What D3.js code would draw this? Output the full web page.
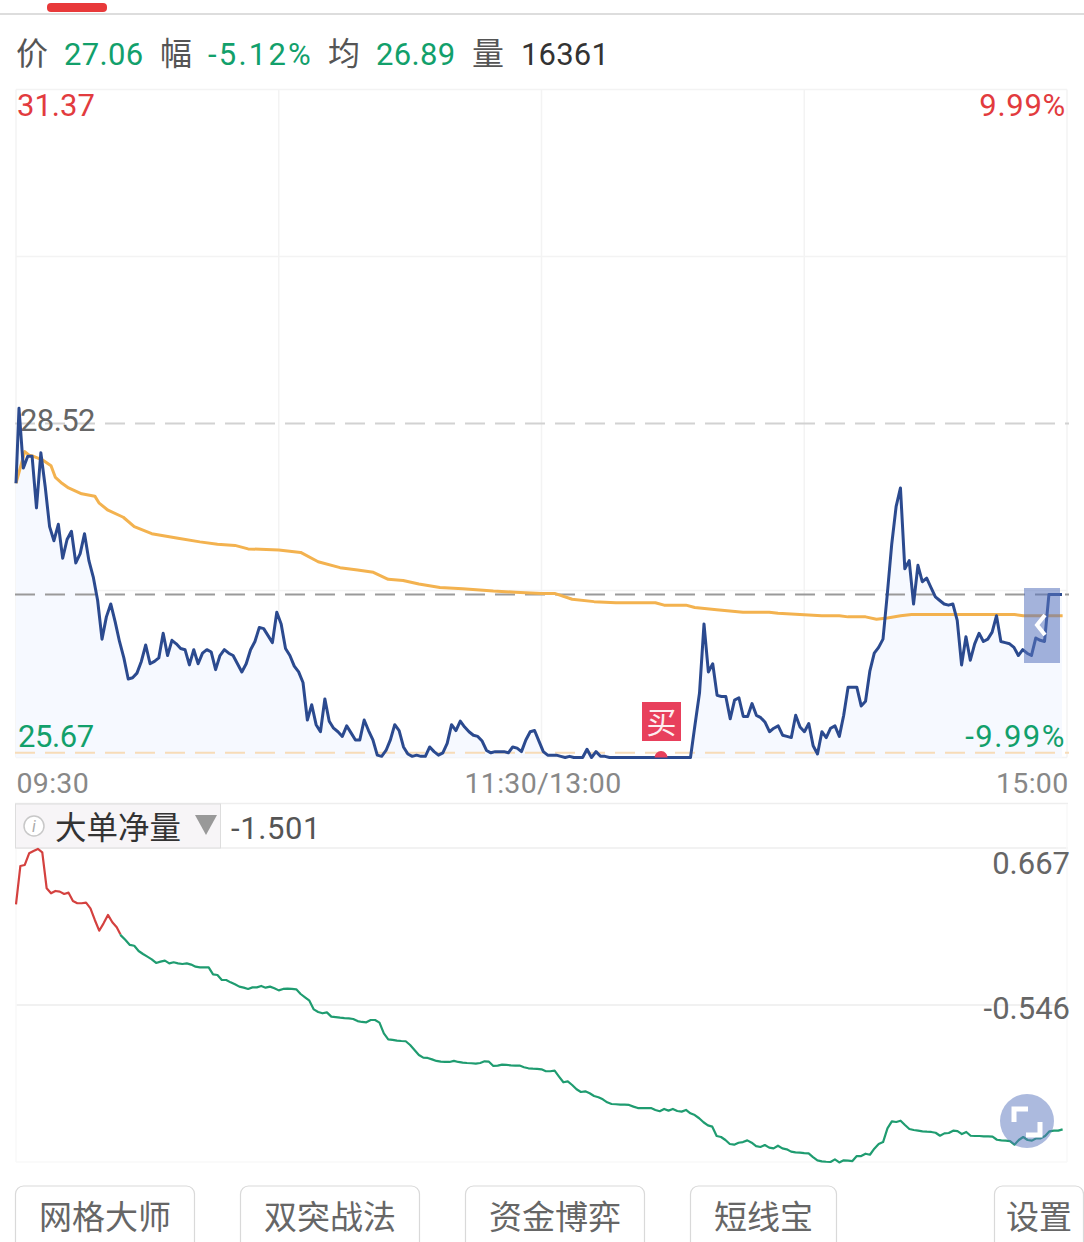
<!DOCTYPE html>
<html lang="zh">
<head>
<meta charset="UTF-8">
<title>分时图</title>
<script src="https://d3js.org/d3.v7.min.js"></script>
<style>
  html, body { margin: 0; padding: 0; background: #fff; overflow: hidden; }
  svg { display: block; }
  text { font-family: Roboto, "Noto Sans CJK SC", sans-serif; }
  .cjk { font-family: "Noto Sans CJK SC", sans-serif; }
</style>
</head>
<body>
<svg id="chart" width="1084" height="1242"></svg>
<script>
// per-minute last price (09:30 = 0, 15:00 = 240)
const priceValues = [
  28.01,28.65,28.14,28.24,28.24,27.80,28.27,27.98,27.64,27.52,
  27.66,27.37,27.53,27.60,27.33,27.41,27.58,27.35,27.21,27.01,
  26.68,26.87,26.98,26.83,26.66,26.52,26.34,26.35,26.39,26.49,
  26.63,26.47,26.49,26.52,26.73,26.54,26.67,26.64,26.60,26.59,
  26.46,26.59,26.47,26.56,26.59,26.57,26.42,26.54,26.59,26.56,
  26.54,26.47,26.40,26.47,26.59,26.66,26.78,26.77,26.71,26.65,
  26.91,26.81,26.60,26.54,26.45,26.40,26.31,25.99,26.12,25.95,
  25.89,26.17,25.98,25.92,25.89,25.85,25.94,25.88,25.82,25.82,
  25.99,25.90,25.82,25.69,25.68,25.73,25.82,25.95,25.90,25.76,
  25.70,25.68,25.69,25.68,25.68,25.76,25.72,25.69,25.71,25.79,
  25.95,25.90,25.98,25.93,25.89,25.86,25.85,25.81,25.73,25.71,
  25.72,25.72,25.72,25.71,25.76,25.75,25.72,25.82,25.89,25.90,
  25.81,25.72,25.69,25.69,25.69,25.68,25.67,25.68,25.67,25.67,
  25.67,25.74,25.67,25.72,25.68,25.68,25.67,25.67,25.67,25.67,
  25.67,25.67,25.67,25.67,25.67,25.67,25.67,25.67,25.67,25.67,
  25.67,25.67,25.67,25.67,25.67,25.95,26.22,26.81,26.40,26.47,
  26.20,26.19,26.19,26.00,26.16,26.18,26.02,26.02,26.13,26.03,
  26.01,25.97,25.89,25.92,25.94,25.86,25.85,25.84,26.03,25.93,
  25.89,25.96,25.77,25.70,25.89,25.84,25.92,25.94,25.85,26.03,
  26.27,26.27,26.27,26.11,26.15,26.41,26.56,26.61,26.68,27.07,
  27.49,27.81,27.97,27.28,27.35,26.98,27.31,27.17,27.20,27.12,
  27.04,27.01,26.98,26.97,26.98,26.84,26.46,26.70,26.50,26.64,
  26.73,26.66,26.68,26.74,26.88,26.66,26.65,26.64,26.61,26.54,
  26.59,26.56,26.54,26.69,26.67,26.66,27.06,27.06,27.06,27.06
];

// average price line, read at its bends
const avgMinutes = [0,2,3,4,6,8,9,10.5,12,15,18,19,21,24.5,27,31,37,42,46,50,53,60,65,69,74,78,
  81.6,85,88.4,92,96.8,102,109,114,120,123,127,132,137,146,148,153,155,160,
  166,172,174,179,184,188,190,194,196.5,199,202,204.5,214,228,230,239];
const avgValues = [28.01,28.28,28.25,28.24,28.21,28.16,28.06,28.01,27.97,27.92,27.90,27.84,27.78,27.72,27.64,27.58,27.54,27.51,27.49,27.48,27.45,27.44,27.42,27.34,27.29,27.27,
  27.25,27.19,27.18,27.15,27.12,27.11,27.09,27.08,27.07,27.07,27.02,27.00,26.99,26.99,26.97,26.97,26.95,26.93,
  26.91,26.91,26.90,26.89,26.88,26.88,26.87,26.87,26.85,26.86,26.88,26.89,26.89,26.89,26.88,26.88];

// 大单净量 per minute
const netValues = [
  .232,.528,.536,.626,.644,.660,.634,.356,.317,.335,
  .330,.312,.322,.258,.240,.240,.245,.201,.111,.028,
  .085,.150,.093,.054,-.010,-.044,-.082,-.088,-.129,-.152,
  -.172,-.193,-.221,-.211,-.203,-.224,-.216,-.224,-.229,-.224,
  -.234,-.250,-.255,-.255,-.255,-.309,-.314,-.353,-.353,-.371,
  -.386,-.404,-.412,-.422,-.410,-.410,-.399,-.412,-.404,-.417,
  -.433,-.422,-.420,-.422,-.425,-.461,-.487,-.513,-.580,-.600,
  -.610,-.603,-.636,-.639,-.644,-.647,-.649,-.654,-.670,-.677,
  -.680,-.662,-.662,-.682,-.765,-.811,-.816,-.821,-.824,-.826,
  -.855,-.893,-.932,-.953,-.955,-.966,-.978,-.984,-.986,-.986,
  -.978,-.986,-.991,-.994,-.996,-.999,-.994,-.981,-.984,-1.017,
  -1.014,-1.007,-1.009,-1.012,-1.014,-1.014,-1.027,-1.035,-1.038,-1.040,
  -1.043,-1.058,-1.058,-1.053,-1.099,-1.143,-1.136,-1.164,-1.197,-1.218,
  -1.213,-1.228,-1.249,-1.259,-1.275,-1.298,-1.311,-1.313,-1.316,-1.316,
  -1.318,-1.331,-1.342,-1.342,-1.342,-1.342,-1.357,-1.367,-1.349,-1.362,
  -1.349,-1.365,-1.370,-1.357,-1.383,-1.396,-1.421,-1.452,-1.476,-1.486,
  -1.558,-1.566,-1.589,-1.620,-1.625,-1.610,-1.605,-1.592,-1.610,-1.636,
  -1.643,-1.628,-1.648,-1.654,-1.633,-1.654,-1.661,-1.679,-1.685,-1.687,
  -1.690,-1.692,-1.721,-1.746,-1.754,-1.757,-1.759,-1.739,-1.762,-1.746,
  -1.749,-1.752,-1.713,-1.713,-1.695,-1.703,-1.656,-1.620,-1.605,-1.499,
  -1.445,-1.450,-1.440,-1.473,-1.504,-1.512,-1.517,-1.522,-1.525,-1.527,
  -1.533,-1.556,-1.538,-1.535,-1.517,-1.520,-1.543,-1.527,-1.556,-1.558,
  -1.558,-1.561,-1.561,-1.563,-1.587,-1.592,-1.594,-1.597,-1.625,-1.589,
  -1.566,-1.589,-1.594,-1.576,-1.576,-1.558,-1.522,-1.517,-1.517,-1.507
];

const xTicks = [0, 120, 240];
const xTickLabels = ["09:30", "11:30/13:00", "15:00"];
const gridMinutes = [60, 120, 180];
const priceGrid = [31.37, 29.945, 27.095, 25.67];
const netTicks = [0.667, -0.546];
const netGrid = [-0.546, -1.759];

const prevClose = 28.52, lastPrice = 27.06, lowGuide = 25.71, buyMinute = 147.3;
const priceLow = 25.67, priceHigh = 31.37;
const netLow = -1.759, netHigh = 0.667;
const header = [
  ["价", 16, "#555", 0, true], ["27.06", 64, "#12a06b", 0.3], ["幅", 160, "#555", 0, true], ["-5.12%", 208, "#12a06b", 2.2],
  ["均", 328, "#555", 0, true], ["26.89", 376, "#12a06b", 0.3], ["量", 472, "#555", 0, true], ["16361", 521, "#333", 0.2]
];
const buttons = [["网格大师", 15, 195], ["双突战法", 240, 420], ["资金博弈", 465, 645], ["短线宝", 690, 837], ["设置", 994, 1084]];

const svg = d3.select("#chart");
const x = d3.scaleLinear().domain([0, 240]).range([16, 1067]);
// the price samples do not sit quite evenly on the time axis, so they get their own bent scale
const xPrice = d3.scaleLinear().domain([0, 1, 131, 157, 239]).range([16, 19, 587, 704, 1062]);
const yPrice = d3.scaleLinear().domain([priceLow, priceHigh]).range([757.5, 89.5]);
const yNet = d3.scaleLinear().domain([netLow, netHigh]).range([1162, 848]);

// top strip
svg.append("rect").attr("x", 0).attr("y", 13).attr("width", 1084).attr("height", 2).attr("fill", "#ddd");
svg.append("rect").attr("x", 47).attr("y", 3).attr("width", 60).attr("height", 9).attr("rx", 4).attr("fill", "#e8393a");

svg.selectAll(".head").data(header).join("text")
  .attr("class", d => d[4] ? "head cjk" : "head")
  .attr("x", d => d[1]).attr("y", 65)
  .attr("font-size", d => d[4] ? 32 : 31).attr("letter-spacing", d => d[3])
  .attr("fill", d => d[2]).text(d => d[0]);

// price panel grid
svg.selectAll(".hgrid").data(priceGrid).join("line").attr("class", "hgrid")
  .attr("x1", x(0)).attr("x2", x(240)).attr("y1", d => yPrice(d)).attr("y2", d => yPrice(d))
  .attr("stroke", "#f3f3f3").attr("stroke-width", 1.5);
svg.selectAll(".vgrid").data([0, ...gridMinutes, 240]).join("line").attr("class", "vgrid")
  .attr("x1", d => x(d)).attr("x2", d => x(d)).attr("y1", yPrice(priceHigh)).attr("y2", yPrice(priceLow))
  .attr("stroke", "#f3f3f3").attr("stroke-width", 1.5);

// area + guides
const area = d3.area().x((d, i) => xPrice(i)).y0(yPrice(priceLow)).y1(d => yPrice(d));
svg.append("path").attr("d", area(priceValues)).attr("fill", "#f6f9ff");

function guide(value, colour) {
  svg.append("line").attr("x1", 15).attr("x2", 1069)
    .attr("y1", yPrice(value)).attr("y2", yPrice(value))
    .attr("stroke", colour).attr("stroke-width", 2).attr("stroke-dasharray", "20 10");
}
guide(prevClose, "#d2d2d2");
guide(lastPrice, "#9a9a9a");
guide(lowGuide, "#f7dcb8");

// axis labels of the price panel
function label(t, px, py, colour, anchor, spacing) {
  svg.append("text").attr("x", px).attr("y", py).attr("font-size", 31)
    .attr("text-anchor", anchor || "start").attr("letter-spacing", spacing || 0)
    .attr("fill", colour).text(t);
}
label("31.37", 17, 116, "#e23b3e");
label("9.99%", 1066, 116, "#e23b3e", "end", 0.7);
label("28.52", 20, 431, "#666", "start", -0.6);
label("25.67", 18, 747, "#12a06b", "start", -0.4);
label("-9.99%", 1066, 747, "#12a06b", "end", 1.5);

// lines
const priceLine = d3.line().x((d, i) => xPrice(i)).y(d => yPrice(d));
const avgLine = d3.line().x(d => x(d[0])).y(d => yPrice(d[1]));
svg.append("path").attr("d", avgLine(avgMinutes.map((m, i) => [m, avgValues[i]])))
  .attr("fill", "none").attr("stroke", "#f3b24f").attr("stroke-width", 3).attr("stroke-linejoin", "round");
svg.append("path").attr("d", priceLine(priceValues))
  .attr("fill", "none").attr("stroke", "#2b4a8f").attr("stroke-width", 3).attr("stroke-linejoin", "round");

// buy marker
svg.append("clipPath").attr("id", "priceClip").append("rect")
  .attr("x", 0).attr("y", 0).attr("width", 1084).attr("height", yPrice(priceLow));
svg.append("circle").attr("cx", x(buyMinute)).attr("cy", yPrice(priceLow)).attr("r", 6.5)
  .attr("fill", "#e8405c").attr("clip-path", "url(#priceClip)");
svg.append("rect").attr("x", 642).attr("y", 702).attr("width", 39).attr("height", 39).attr("fill", "#e8405c");
svg.append("text").attr("class", "cjk").attr("x", 661.5).attr("y", 733).attr("text-anchor", "middle")
  .attr("font-size", 30).attr("fill", "#fdeef0").text("买");

// collapse handle
svg.append("rect").attr("x", 1024).attr("y", 588).attr("width", 36).attr("height", 75)
  .attr("fill", "#5a75bd").attr("opacity", 0.55);
svg.append("path").attr("d", "M1045 615 L1037 625 L1045 635").attr("fill", "none")
  .attr("stroke", "#fff").attr("stroke-width", 4);

// time axis
const xAxis = d3.axisBottom(x).tickValues(xTicks).tickFormat((d, i) => xTickLabels[i]).tickSize(0);
const gx = svg.append("g").attr("transform", "translate(0,774)").call(xAxis);
gx.select(".domain").remove();
gx.selectAll("text").attr("font-size", 28.5).attr("fill", "#888").attr("font-family", null)
  .attr("y", 0).attr("dy", 19)
  .attr("text-anchor", (d, i) => ["start", "middle", "end"][i])
  .attr("x", (d, i) => [0, 1, 1][i])
  .attr("letter-spacing", 0.3);

// lower panel
svg.append("line").attr("x1", 15).attr("x2", 1068).attr("y1", 803.5).attr("y2", 803.5).attr("stroke", "#eee").attr("stroke-width", 1.5);
svg.append("line").attr("x1", 15).attr("x2", 1068).attr("y1", yNet(netHigh)).attr("y2", yNet(netHigh)).attr("stroke", "#eee").attr("stroke-width", 1.5);
svg.selectAll(".ngrid").data(netGrid).join("line").attr("class", "ngrid")
  .attr("x1", x(0)).attr("x2", x(240)).attr("y1", d => yNet(d)).attr("y2", d => yNet(d))
  .attr("stroke", d => d === netGrid[0] ? "#ececec" : "#f8f8f8").attr("stroke-width", 1.5);
svg.append("line").attr("x1", x(0)).attr("x2", x(0)).attr("y1", 848).attr("y2", 1162).attr("stroke", "#f8f8f8").attr("stroke-width", 1.5);
svg.append("line").attr("x1", x(240)).attr("x2", x(240)).attr("y1", 804).attr("y2", 1162).attr("stroke", "#f8f8f8").attr("stroke-width", 1.5);

svg.append("rect").attr("x", 15.5).attr("y", 804).attr("width", 205).attr("height", 44)
  .attr("fill", "#f7f5f7").attr("stroke", "#ddd").attr("stroke-width", 1);
svg.append("circle").attr("cx", 34).attr("cy", 826).attr("r", 10).attr("fill", "#fff").attr("stroke", "#c8c8c8").attr("stroke-width", 1.5);
svg.append("text").attr("x", 34).attr("y", 832).attr("text-anchor", "middle").attr("font-size", 16)
  .attr("font-style", "italic").attr("font-family", "Liberation Serif").attr("fill", "#aaa").text("i");
svg.append("text").attr("class", "cjk").attr("x", 55).attr("y", 839).attr("font-size", 31.5).attr("fill", "#333").text("大单净量");
svg.append("path").attr("d", d3.line()([[195, 815], [217, 815], [206, 835]]) + "Z").attr("fill", "#999");
svg.append("text").attr("x", 231).attr("y", 839).attr("font-size", 31).attr("letter-spacing", 0.6).attr("fill", "#555").text("-1.501");

const netLine = d3.line().x((d, i) => x(i)).y(d => yNet(d));
svg.append("clipPath").attr("id", "aboveZero").append("rect")
  .attr("x", 0).attr("y", 0).attr("width", 1084).attr("height", yNet(0));
svg.append("clipPath").attr("id", "belowZero").append("rect")
  .attr("x", 0).attr("y", yNet(0)).attr("width", 1084).attr("height", 1242 - yNet(0));
[["aboveZero", "#d4413f"], ["belowZero", "#1f9c70"]].forEach(([id, colour]) => {
  svg.append("path").attr("d", netLine(netValues)).attr("clip-path", `url(#${id})`)
    .attr("fill", "none").attr("stroke", colour).attr("stroke-width", 2.2).attr("stroke-linejoin", "round");
});

const netAxis = d3.axisLeft(yNet).tickValues(netTicks).tickFormat(d => d.toFixed(3)).tickSize(0);
const gn = svg.append("g").attr("transform", "translate(1070,0)").call(netAxis);
gn.select(".domain").remove();
gn.selectAll("text").attr("font-size", 31).attr("fill", "#666").attr("font-family", null)
  .attr("x", 0).attr("dy", null)
  .attr("y", (d, i) => i === 0 ? 25 : 13);

// fullscreen button
svg.append("circle").attr("cx", 1027).attr("cy", 1121).attr("r", 27).attr("fill", "#5a75bd").attr("opacity", 0.5);
svg.append("path").attr("d", "M1014 1122 V1109 H1028 M1040 1122 V1135 H1026").attr("fill", "none")
  .attr("stroke", "#fff").attr("stroke-width", 5);

// bottom buttons
const btn = svg.selectAll(".btn").data(buttons).join("g").attr("class", "btn");
btn.append("rect").attr("x", d => d[1] + 0.5).attr("y", 1186).attr("width", d => d[2] - d[1] - 1).attr("height", 80)
  .attr("rx", 8).attr("fill", "#fff").attr("stroke", "#d9d9d9").attr("stroke-width", 1.2);
btn.append("text").attr("class", "cjk").attr("x", d => (d[1] + d[2]) / 2).attr("y", 1229)
  .attr("text-anchor", "middle").attr("font-size", 33).attr("fill", "#666").text(d => d[0]);
</script>
</body>
</html>
